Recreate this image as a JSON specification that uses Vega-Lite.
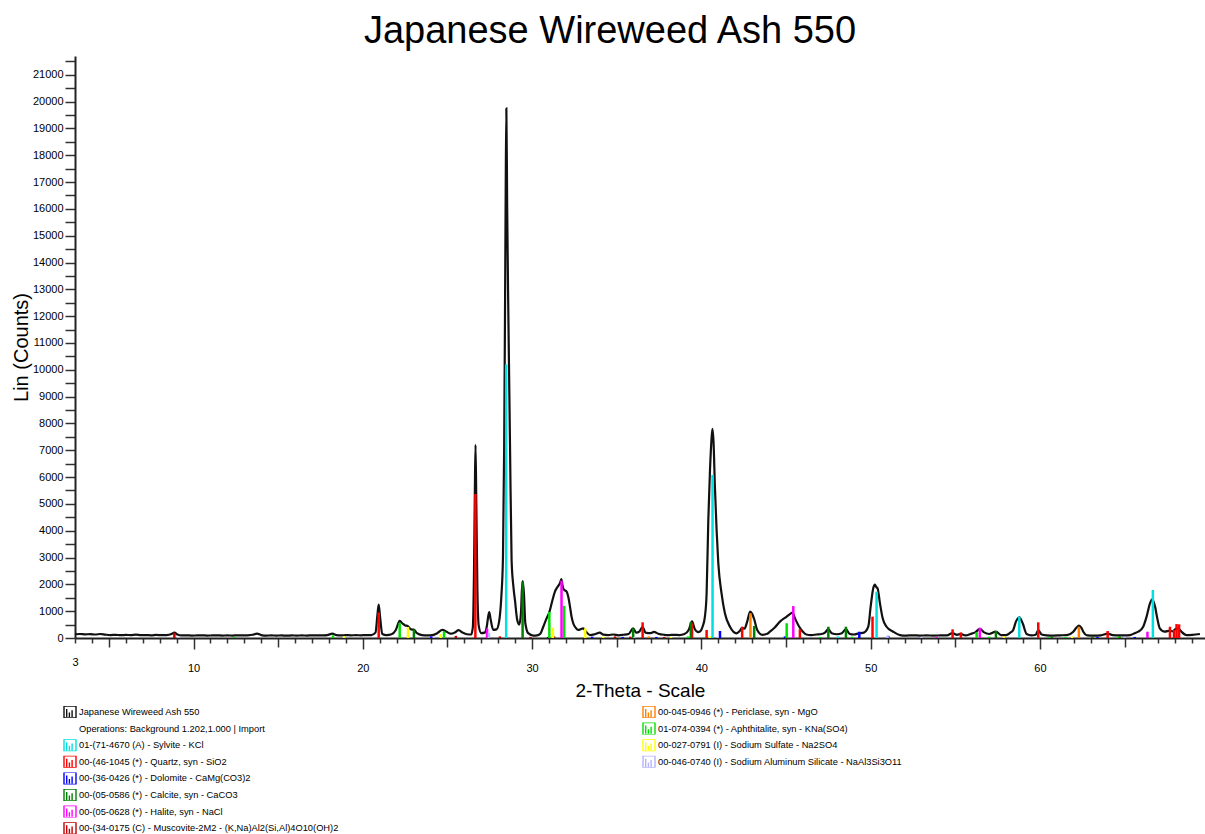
{
  "$schema": "https://vega.github.io/schema/vega-lite/v6.json",
  "autosize": {"type": "none"},
  "padding": {"left": 75, "top": 56, "right": 0, "bottom": 196},
  "width": 1130,
  "height": 582,
  "background": "white",
  "view": {"stroke": null},
  "title": {"text": "Japanese Wireweed Ash 550", "font": "Liberation Sans", "fontSize": 38, "fontWeight": "normal", "color": "black", "anchor": "middle", "frame": "group", "dx": -30, "offset": 4},
  "config": {"font": "Liberation Sans"},
  "datasets": {
    "pattern": [
      {"t":3.0,"c":140},{"t":3.3,"c":150},{"t":3.6,"c":135},{"t":3.9,"c":145},{"t":4.2,"c":130},{"t":4.5,"c":150},{"t":4.8,"c":125},{"t":5.1,"c":110},{"t":5.4,"c":120},{"t":5.7,"c":105},{"t":6.0,"c":115},{"t":6.3,"c":110},{"t":6.6,"c":125},{"t":6.9,"c":105},{"t":7.2,"c":110},{"t":7.5,"c":100},{"t":7.8,"c":115},{"t":8.1,"c":105},{"t":8.4,"c":110},{"t":8.7,"c":150},{"t":8.87,"c":205},{"t":9.05,"c":130},{"t":9.3,"c":95},{"t":9.6,"c":100},{"t":9.9,"c":90},{"t":10.2,"c":95},{"t":10.5,"c":100},{"t":10.8,"c":90},{"t":11.1,"c":95},{"t":11.4,"c":100},{"t":11.7,"c":90},{"t":12.0,"c":95},{"t":12.3,"c":90},{"t":12.6,"c":100},{"t":12.9,"c":95},{"t":13.2,"c":100},{"t":13.5,"c":120},{"t":13.75,"c":165},{"t":14.0,"c":110},{"t":14.3,"c":90},{"t":14.6,"c":95},{"t":14.9,"c":90},{"t":15.2,"c":95},{"t":15.5,"c":85},{"t":15.8,"c":95},{"t":16.1,"c":90},{"t":16.4,"c":95},{"t":16.7,"c":90},{"t":17.0,"c":100},{"t":17.3,"c":95},{"t":17.6,"c":100},{"t":17.9,"c":110},{"t":18.2,"c":160},{"t":18.45,"c":110},{"t":18.7,"c":95},{"t":19.0,"c":110},{"t":19.3,"c":100},{"t":19.6,"c":105},{"t":19.9,"c":100},{"t":20.2,"c":110},{"t":20.5,"c":110},{"t":20.75,"c":200},{"t":20.87,"c":900},{"t":20.94,"c":1250},{"t":21.02,"c":800},{"t":21.15,"c":150},{"t":21.4,"c":110},{"t":21.7,"c":140},{"t":21.95,"c":300},{"t":22.18,"c":640},{"t":22.35,"c":540},{"t":22.5,"c":470},{"t":22.65,"c":450},{"t":22.85,"c":320},{"t":23.02,"c":310},{"t":23.2,"c":180},{"t":23.5,"c":110},{"t":23.8,"c":100},{"t":24.1,"c":110},{"t":24.4,"c":180},{"t":24.7,"c":300},{"t":24.95,"c":230},{"t":25.2,"c":160},{"t":25.45,"c":210},{"t":25.66,"c":290},{"t":25.9,"c":200},{"t":26.15,"c":140},{"t":26.4,"c":130},{"t":26.5,"c":400},{"t":26.57,"c":2500},{"t":26.62,"c":5500},{"t":26.66,"c":7200},{"t":26.71,"c":4800},{"t":26.77,"c":1800},{"t":26.85,"c":450},{"t":27.0,"c":180},{"t":27.2,"c":200},{"t":27.33,"c":450},{"t":27.42,"c":850},{"t":27.47,"c":970},{"t":27.55,"c":700},{"t":27.71,"c":300},{"t":27.9,"c":320},{"t":28.05,"c":600},{"t":28.18,"c":1500},{"t":28.28,"c":3000},{"t":28.35,"c":7000},{"t":28.4,"c":12000},{"t":28.44,"c":16500},{"t":28.48,"c":19750},{"t":28.53,"c":16000},{"t":28.58,"c":13000},{"t":28.64,"c":10000},{"t":28.7,"c":7000},{"t":28.79,"c":2900},{"t":28.9,"c":1900},{"t":28.99,"c":1400},{"t":29.12,"c":680},{"t":29.24,"c":500},{"t":29.34,"c":900},{"t":29.4,"c":1800},{"t":29.45,"c":2120},{"t":29.52,"c":1650},{"t":29.6,"c":560},{"t":29.77,"c":180},{"t":30.07,"c":90},{"t":30.3,"c":100},{"t":30.5,"c":170},{"t":30.66,"c":420},{"t":30.85,"c":720},{"t":31.0,"c":930},{"t":31.2,"c":1400},{"t":31.35,"c":1730},{"t":31.5,"c":1900},{"t":31.65,"c":2050},{"t":31.73,"c":2200},{"t":31.8,"c":1950},{"t":31.88,"c":1800},{"t":32.04,"c":1730},{"t":32.15,"c":1500},{"t":32.24,"c":1170},{"t":32.33,"c":800},{"t":32.43,"c":550},{"t":32.58,"c":380},{"t":32.73,"c":300},{"t":32.88,"c":330},{"t":33.02,"c":360},{"t":33.18,"c":240},{"t":33.42,"c":110},{"t":33.7,"c":140},{"t":34.0,"c":200},{"t":34.2,"c":125},{"t":34.5,"c":110},{"t":34.8,"c":130},{"t":35.1,"c":100},{"t":35.4,"c":120},{"t":35.7,"c":150},{"t":35.97,"c":360},{"t":36.15,"c":200},{"t":36.35,"c":250},{"t":36.53,"c":420},{"t":36.7,"c":200},{"t":37.0,"c":180},{"t":37.2,"c":230},{"t":37.45,"c":160},{"t":37.8,"c":120},{"t":38.1,"c":110},{"t":38.4,"c":120},{"t":38.7,"c":110},{"t":39.0,"c":150},{"t":39.25,"c":300},{"t":39.45,"c":620},{"t":39.6,"c":350},{"t":39.8,"c":220},{"t":39.92,"c":240},{"t":40.07,"c":420},{"t":40.21,"c":800},{"t":40.31,"c":1670},{"t":40.41,"c":4400},{"t":40.51,"c":6270},{"t":40.61,"c":7510},{"t":40.66,"c":7800},{"t":40.72,"c":7300},{"t":40.8,"c":5640},{"t":40.9,"c":4030},{"t":41.0,"c":2790},{"t":41.19,"c":1670},{"t":41.39,"c":920},{"t":41.69,"c":420},{"t":42.08,"c":175},{"t":42.25,"c":250},{"t":42.41,"c":380},{"t":42.55,"c":350},{"t":42.7,"c":600},{"t":42.88,"c":980},{"t":43.0,"c":900},{"t":43.12,"c":700},{"t":43.3,"c":300},{"t":43.6,"c":120},{"t":43.9,"c":160},{"t":44.05,"c":235},{"t":44.35,"c":400},{"t":44.64,"c":610},{"t":45.04,"c":800},{"t":45.25,"c":900},{"t":45.39,"c":950},{"t":45.5,"c":780},{"t":45.62,"c":610},{"t":45.82,"c":380},{"t":46.0,"c":235},{"t":46.2,"c":130},{"t":46.5,"c":110},{"t":46.8,"c":130},{"t":47.1,"c":150},{"t":47.3,"c":200},{"t":47.5,"c":330},{"t":47.7,"c":180},{"t":48.0,"c":140},{"t":48.3,"c":180},{"t":48.54,"c":330},{"t":48.75,"c":160},{"t":49.0,"c":130},{"t":49.3,"c":170},{"t":49.6,"c":200},{"t":49.86,"c":420},{"t":50.0,"c":1170},{"t":50.15,"c":1850},{"t":50.25,"c":1990},{"t":50.33,"c":1900},{"t":50.41,"c":1850},{"t":50.55,"c":1290},{"t":50.71,"c":735},{"t":50.94,"c":420},{"t":51.33,"c":235},{"t":51.73,"c":110},{"t":52.1,"c":90},{"t":52.5,"c":100},{"t":52.9,"c":90},{"t":53.3,"c":95},{"t":53.7,"c":90},{"t":54.1,"c":95},{"t":54.5,"c":100},{"t":54.84,"c":180},{"t":55.1,"c":120},{"t":55.33,"c":150},{"t":55.6,"c":100},{"t":55.9,"c":150},{"t":56.2,"c":220},{"t":56.45,"c":340},{"t":56.7,"c":210},{"t":57.0,"c":150},{"t":57.4,"c":240},{"t":57.7,"c":110},{"t":58.0,"c":110},{"t":58.25,"c":200},{"t":58.42,"c":300},{"t":58.58,"c":610},{"t":58.78,"c":770},{"t":58.98,"c":550},{"t":59.21,"c":150},{"t":59.5,"c":100},{"t":59.75,"c":120},{"t":59.9,"c":290},{"t":60.1,"c":130},{"t":60.4,"c":100},{"t":60.8,"c":90},{"t":61.2,"c":100},{"t":61.6,"c":110},{"t":61.97,"c":235},{"t":62.15,"c":380},{"t":62.3,"c":460},{"t":62.45,"c":380},{"t":62.56,"c":235},{"t":62.8,"c":100},{"t":63.2,"c":90},{"t":63.6,"c":100},{"t":64.0,"c":160},{"t":64.3,"c":110},{"t":64.7,"c":100},{"t":65.0,"c":100},{"t":65.32,"c":110},{"t":65.6,"c":180},{"t":65.81,"c":235},{"t":66.1,"c":420},{"t":66.3,"c":795},{"t":66.5,"c":1290},{"t":66.63,"c":1440},{"t":66.8,"c":1170},{"t":66.93,"c":735},{"t":67.08,"c":360},{"t":67.37,"c":235},{"t":67.68,"c":275},{"t":67.85,"c":250},{"t":68.07,"c":360},{"t":68.22,"c":330},{"t":68.36,"c":235},{"t":68.66,"c":110},{"t":69.0,"c":120},{"t":69.45,"c":150}
    ],
    "sticks": [
      {"s":"01-(71-4670 (A) - Sylvite - KCl","t":28.47,"c":10200},
      {"s":"01-(71-4670 (A) - Sylvite - KCl","t":40.66,"c":6080},
      {"s":"01-(71-4670 (A) - Sylvite - KCl","t":50.35,"c":1730},
      {"s":"01-(71-4670 (A) - Sylvite - KCl","t":58.78,"c":795},
      {"s":"01-(71-4670 (A) - Sylvite - KCl","t":66.67,"c":1790},
      {"s":"01-(71-4670 (A) - Sylvite - KCl","t":48.07,"c":60},
      {"s":"00-(46-1045 (*) - Quartz, syn - SiO2","t":20.94,"c":950},
      {"s":"00-(46-1045 (*) - Quartz, syn - SiO2","t":26.65,"c":5370},
      {"s":"00-(46-1045 (*) - Quartz, syn - SiO2","t":36.53,"c":585},
      {"s":"00-(46-1045 (*) - Quartz, syn - SiO2","t":39.45,"c":550},
      {"s":"00-(46-1045 (*) - Quartz, syn - SiO2","t":40.31,"c":300},
      {"s":"00-(46-1045 (*) - Quartz, syn - SiO2","t":42.41,"c":420},
      {"s":"00-(46-1045 (*) - Quartz, syn - SiO2","t":45.82,"c":325},
      {"s":"00-(46-1045 (*) - Quartz, syn - SiO2","t":50.11,"c":795},
      {"s":"00-(46-1045 (*) - Quartz, syn - SiO2","t":54.84,"c":325},
      {"s":"00-(46-1045 (*) - Quartz, syn - SiO2","t":55.33,"c":210},
      {"s":"00-(46-1045 (*) - Quartz, syn - SiO2","t":59.9,"c":585},
      {"s":"00-(46-1045 (*) - Quartz, syn - SiO2","t":64.0,"c":260},
      {"s":"00-(46-1045 (*) - Quartz, syn - SiO2","t":67.68,"c":420},
      {"s":"00-(46-1045 (*) - Quartz, syn - SiO2","t":67.92,"c":300},
      {"s":"00-(46-1045 (*) - Quartz, syn - SiO2","t":68.07,"c":520},
      {"s":"00-(46-1045 (*) - Quartz, syn - SiO2","t":68.22,"c":510},
      {"s":"00-(36-0426 (*) - Dolomite - CaMg(CO3)2","t":24.05,"c":60},
      {"s":"00-(36-0426 (*) - Dolomite - CaMg(CO3)2","t":30.95,"c":40},
      {"s":"00-(36-0426 (*) - Dolomite - CaMg(CO3)2","t":33.55,"c":50},
      {"s":"00-(36-0426 (*) - Dolomite - CaMg(CO3)2","t":35.35,"c":40},
      {"s":"00-(36-0426 (*) - Dolomite - CaMg(CO3)2","t":37.35,"c":40},
      {"s":"00-(36-0426 (*) - Dolomite - CaMg(CO3)2","t":41.1,"c":260},
      {"s":"00-(36-0426 (*) - Dolomite - CaMg(CO3)2","t":44.94,"c":60},
      {"s":"00-(36-0426 (*) - Dolomite - CaMg(CO3)2","t":49.33,"c":235},
      {"s":"00-(36-0426 (*) - Dolomite - CaMg(CO3)2","t":51.04,"c":80},
      {"s":"00-(36-0426 (*) - Dolomite - CaMg(CO3)2","t":63.4,"c":40},
      {"s":"00-(36-0426 (*) - Dolomite - CaMg(CO3)2","t":65.6,"c":40},
      {"s":"00-(05-0586 (*) - Calcite, syn - CaCO3","t":23.02,"c":320},
      {"s":"00-(05-0586 (*) - Calcite, syn - CaCO3","t":29.44,"c":2100},
      {"s":"00-(05-0586 (*) - Calcite, syn - CaCO3","t":35.97,"c":360},
      {"s":"00-(05-0586 (*) - Calcite, syn - CaCO3","t":39.38,"c":600},
      {"s":"00-(05-0586 (*) - Calcite, syn - CaCO3","t":43.12,"c":450},
      {"s":"00-(05-0586 (*) - Calcite, syn - CaCO3","t":47.5,"c":420},
      {"s":"00-(05-0586 (*) - Calcite, syn - CaCO3","t":48.54,"c":420},
      {"s":"00-(05-0586 (*) - Calcite, syn - CaCO3","t":57.4,"c":260},
      {"s":"00-(05-0586 (*) - Calcite, syn - CaCO3","t":60.7,"c":50},
      {"s":"00-(05-0586 (*) - Calcite, syn - CaCO3","t":63.1,"c":40},
      {"s":"00-(05-0586 (*) - Calcite, syn - CaCO3","t":64.7,"c":60},
      {"s":"00-(05-0628 (*) - Halite, syn - NaCl","t":27.34,"c":350},
      {"s":"00-(05-0628 (*) - Halite, syn - NaCl","t":31.74,"c":2140},
      {"s":"00-(05-0628 (*) - Halite, syn - NaCl","t":45.43,"c":1190},
      {"s":"00-(05-0628 (*) - Halite, syn - NaCl","t":53.9,"c":40},
      {"s":"00-(05-0628 (*) - Halite, syn - NaCl","t":56.45,"c":385},
      {"s":"00-(05-0628 (*) - Halite, syn - NaCl","t":66.35,"c":235},
      {"s":"00-(34-0175 (C) - Muscovite-2M2 - (K,Na)Al2(Si,Al)4O10(OH)2","t":8.87,"c":200},
      {"s":"00-(34-0175 (C) - Muscovite-2M2 - (K,Na)Al2(Si,Al)4O10(OH)2","t":25.5,"c":80},
      {"s":"00-(34-0175 (C) - Muscovite-2M2 - (K,Na)Al2(Si,Al)4O10(OH)2","t":28.1,"c":60},
      {"s":"00-(34-0175 (C) - Muscovite-2M2 - (K,Na)Al2(Si,Al)4O10(OH)2","t":29.9,"c":40},
      {"s":"00-(34-0175 (C) - Muscovite-2M2 - (K,Na)Al2(Si,Al)4O10(OH)2","t":31.3,"c":60},
      {"s":"00-(34-0175 (C) - Muscovite-2M2 - (K,Na)Al2(Si,Al)4O10(OH)2","t":34.9,"c":60},
      {"s":"00-(34-0175 (C) - Muscovite-2M2 - (K,Na)Al2(Si,Al)4O10(OH)2","t":35.8,"c":50},
      {"s":"00-(34-0175 (C) - Muscovite-2M2 - (K,Na)Al2(Si,Al)4O10(OH)2","t":37.8,"c":40},
      {"s":"00-045-0946 (*) - Periclase, syn - MgO","t":36.9,"c":60},
      {"s":"00-045-0946 (*) - Periclase, syn - MgO","t":42.9,"c":920},
      {"s":"00-045-0946 (*) - Periclase, syn - MgO","t":62.3,"c":420},
      {"s":"01-074-0394 (*) - Aphthitalite, syn - KNa(SO4)","t":12.4,"c":40},
      {"s":"01-074-0394 (*) - Aphthitalite, syn - KNa(SO4)","t":18.24,"c":100},
      {"s":"01-074-0394 (*) - Aphthitalite, syn - KNa(SO4)","t":22.18,"c":560},
      {"s":"01-074-0394 (*) - Aphthitalite, syn - KNa(SO4)","t":24.8,"c":250},
      {"s":"01-074-0394 (*) - Aphthitalite, syn - KNa(SO4)","t":31.02,"c":970},
      {"s":"01-074-0394 (*) - Aphthitalite, syn - KNa(SO4)","t":31.9,"c":1200},
      {"s":"01-074-0394 (*) - Aphthitalite, syn - KNa(SO4)","t":39.2,"c":60},
      {"s":"01-074-0394 (*) - Aphthitalite, syn - KNa(SO4)","t":45.04,"c":550},
      {"s":"01-074-0394 (*) - Aphthitalite, syn - KNa(SO4)","t":47.0,"c":40},
      {"s":"01-074-0394 (*) - Aphthitalite, syn - KNa(SO4)","t":48.9,"c":50},
      {"s":"01-074-0394 (*) - Aphthitalite, syn - KNa(SO4)","t":56.26,"c":215},
      {"s":"01-074-0394 (*) - Aphthitalite, syn - KNa(SO4)","t":57.0,"c":50},
      {"s":"01-074-0394 (*) - Aphthitalite, syn - KNa(SO4)","t":60.5,"c":40},
      {"s":"01-074-0394 (*) - Aphthitalite, syn - KNa(SO4)","t":61.5,"c":40},
      {"s":"01-074-0394 (*) - Aphthitalite, syn - KNa(SO4)","t":64.6,"c":40},
      {"s":"00-027-0791 (I) - Sodium Sulfate - Na2SO4","t":18.9,"c":60},
      {"s":"00-027-0791 (I) - Sodium Sulfate - Na2SO4","t":22.67,"c":410},
      {"s":"00-027-0791 (I) - Sodium Sulfate - Na2SO4","t":24.6,"c":150},
      {"s":"00-027-0791 (I) - Sodium Sulfate - Na2SO4","t":31.23,"c":385},
      {"s":"00-027-0791 (I) - Sodium Sulfate - Na2SO4","t":33.14,"c":360},
      {"s":"00-027-0791 (I) - Sodium Sulfate - Na2SO4","t":34.2,"c":50},
      {"s":"00-027-0791 (I) - Sodium Sulfate - Na2SO4","t":38.2,"c":40},
      {"s":"00-027-0791 (I) - Sodium Sulfate - Na2SO4","t":40.5,"c":60},
      {"s":"00-027-0791 (I) - Sodium Sulfate - Na2SO4","t":57.87,"c":60},
      {"s":"00-027-0791 (I) - Sodium Sulfate - Na2SO4","t":61.9,"c":50},
      {"s":"00-046-0740 (I) - Sodium Aluminum Silicate - NaAl3Si3O11","t":9.1,"c":40},
      {"s":"00-046-0740 (I) - Sodium Aluminum Silicate - NaAl3Si3O11","t":24.2,"c":50},
      {"s":"00-046-0740 (I) - Sodium Aluminum Silicate - NaAl3Si3O11","t":27.45,"c":200},
      {"s":"00-046-0740 (I) - Sodium Aluminum Silicate - NaAl3Si3O11","t":36.05,"c":40},
      {"s":"00-046-0740 (I) - Sodium Aluminum Silicate - NaAl3Si3O11","t":40.95,"c":40},
      {"s":"00-046-0740 (I) - Sodium Aluminum Silicate - NaAl3Si3O11","t":51.0,"c":80},
      {"s":"00-046-0740 (I) - Sodium Aluminum Silicate - NaAl3Si3O11","t":53.0,"c":40},
      {"s":"00-046-0740 (I) - Sodium Aluminum Silicate - NaAl3Si3O11","t":65.0,"c":40}
    ]
  },
  "encoding": {
    "x": {
      "field": "t", "type": "quantitative",
      "scale": {"domain": [3, 69.75], "nice": false, "zero": false},
      "axis": {
        "title": "2-Theta - Scale", "titleFont": "Liberation Sans", "titleFontSize": 19, "titleFontWeight": "normal", "titleColor": "black", "titlePadding": 8,
        "values": [3,4,5,6,7,8,9,10,11,12,13,14,15,16,17,18,19,20,21,22,23,24,25,26,27,28,29,30,31,32,33,34,35,36,37,38,39,40,41,42,43,44,45,46,47,48,49,50,51,52,53,54,55,56,57,58,59,60,61,62,63,64,65,66,67,68,69],
        "labelExpr": "datum.value == 3 || datum.value % 10 == 0 ? datum.label : ''",
        "labelFont": "Liberation Sans", "labelFontSize": 11, "labelColor": "black", "labelPadding": 13, "labelFlush": false, "labelOverlap": false, "labelBound": false,
        "tickSize": {"condition": [{"test": "datum.value % 10 == 0", "value": 11}, {"test": "datum.value % 5 == 0", "value": 9}], "value": 5},
        "tickColor": "#333333", "tickWidth": 1.5,
        "domainColor": "#222222", "domainWidth": 2, "grid": false
      }
    },
    "y": {
      "field": "c", "type": "quantitative",
      "scale": {"domain": [0, 21700], "nice": false},
      "axis": {
        "title": "Lin (Counts)", "titleFont": "Liberation Sans", "titleFontSize": 20, "titleFontWeight": "normal", "titleColor": "black", "titlePadding": 1,
        "values": [0,500,1000,1500,2000,2500,3000,3500,4000,4500,5000,5500,6000,6500,7000,7500,8000,8500,9000,9500,10000,10500,11000,11500,12000,12500,13000,13500,14000,14500,15000,15500,16000,16500,17000,17500,18000,18500,19000,19500,20000,20500,21000,21500],
        "format": "d",
        "labelExpr": "datum.value % 1000 == 0 ? datum.label : ''",
        "labelFont": "Liberation Sans", "labelFontSize": 11, "labelColor": "black", "labelPadding": 2, "labelOverlap": false, "labelBound": false, "labelFlush": false,
        "tickSize": 10, "tickColor": "#333333", "tickWidth": 1.5,
        "domainColor": "#222222", "domainWidth": 2, "grid": false
      }
    }
  },
  "layer": [
    {
      "data": {"name": "pattern"},
      "mark": {"type": "line", "color": "#111111", "strokeWidth": 2.2, "interpolate": "monotone"}
    },
    {
      "data": {"name": "sticks"},
      "mark": {"type": "rule", "strokeWidth": 2.5},
      "encoding": {
        "y2": {"datum": 0},
        "color": {
          "field": "s", "type": "nominal",
          "scale": {
            "domain": [
              "Japanese Wireweed Ash 550",
              "Operations: Background 1.202,1.000 | Import",
              "01-(71-4670 (A) - Sylvite - KCl",
              "00-(46-1045 (*) - Quartz, syn - SiO2",
              "00-(36-0426 (*) - Dolomite - CaMg(CO3)2",
              "00-(05-0586 (*) - Calcite, syn - CaCO3",
              "00-(05-0628 (*) - Halite, syn - NaCl",
              "00-(34-0175 (C) - Muscovite-2M2 - (K,Na)Al2(Si,Al)4O10(OH)2",
              "00-045-0946 (*) - Periclase, syn - MgO",
              "01-074-0394 (*) - Aphthitalite, syn - KNa(SO4)",
              "00-027-0791 (I) - Sodium Sulfate - Na2SO4",
              "00-046-0740 (I) - Sodium Aluminum Silicate - NaAl3Si3O11",
              " ",
              "  ",
              "   ",
              "    "
            ],
            "range": ["#111111", "#ffffff", "#00e0e0", "#ff0000", "#0000ff", "#008000", "#ff00ff", "#c00000", "#ff8000", "#00e000", "#ffff00", "#b4b4ff", "#ffffff", "#ffffff", "#ffffff", "#ffffff"]
          },
          "legend": {
            "orient": "none", "legendX": -12, "legendY": 650, "title": null, "padding": 0,
            "columns": 2, "columnPadding": 303, "rowPadding": 4.6, "gridAlign": "each", "clipHeight": 12,
            "symbolType": "M-1,-1H1V1H-1Z M-0.55,0.85V-0.5 M-0.1,0.85V0.1 M0.35,0.85V-0.3",
            "symbolSize": 144, "symbolStrokeWidth": 1.4, "symbolFillColor": "transparent", "symbolOpacity": 1,
            "labelFont": "Liberation Sans", "labelFontSize": 9.3, "labelColor": "black", "labelOffset": 2, "labelLimit": 0,
            "symbolLimit": 0
          }
        }
      }
    },
    {
      "mark": {"type": "point", "shape": "triangle-up", "filled": true, "color": "#111111", "size": 70, "opacity": 1},
      "encoding": {"x": {"datum": 3}, "y": {"datum": 21450}}
    }
  ]
}
